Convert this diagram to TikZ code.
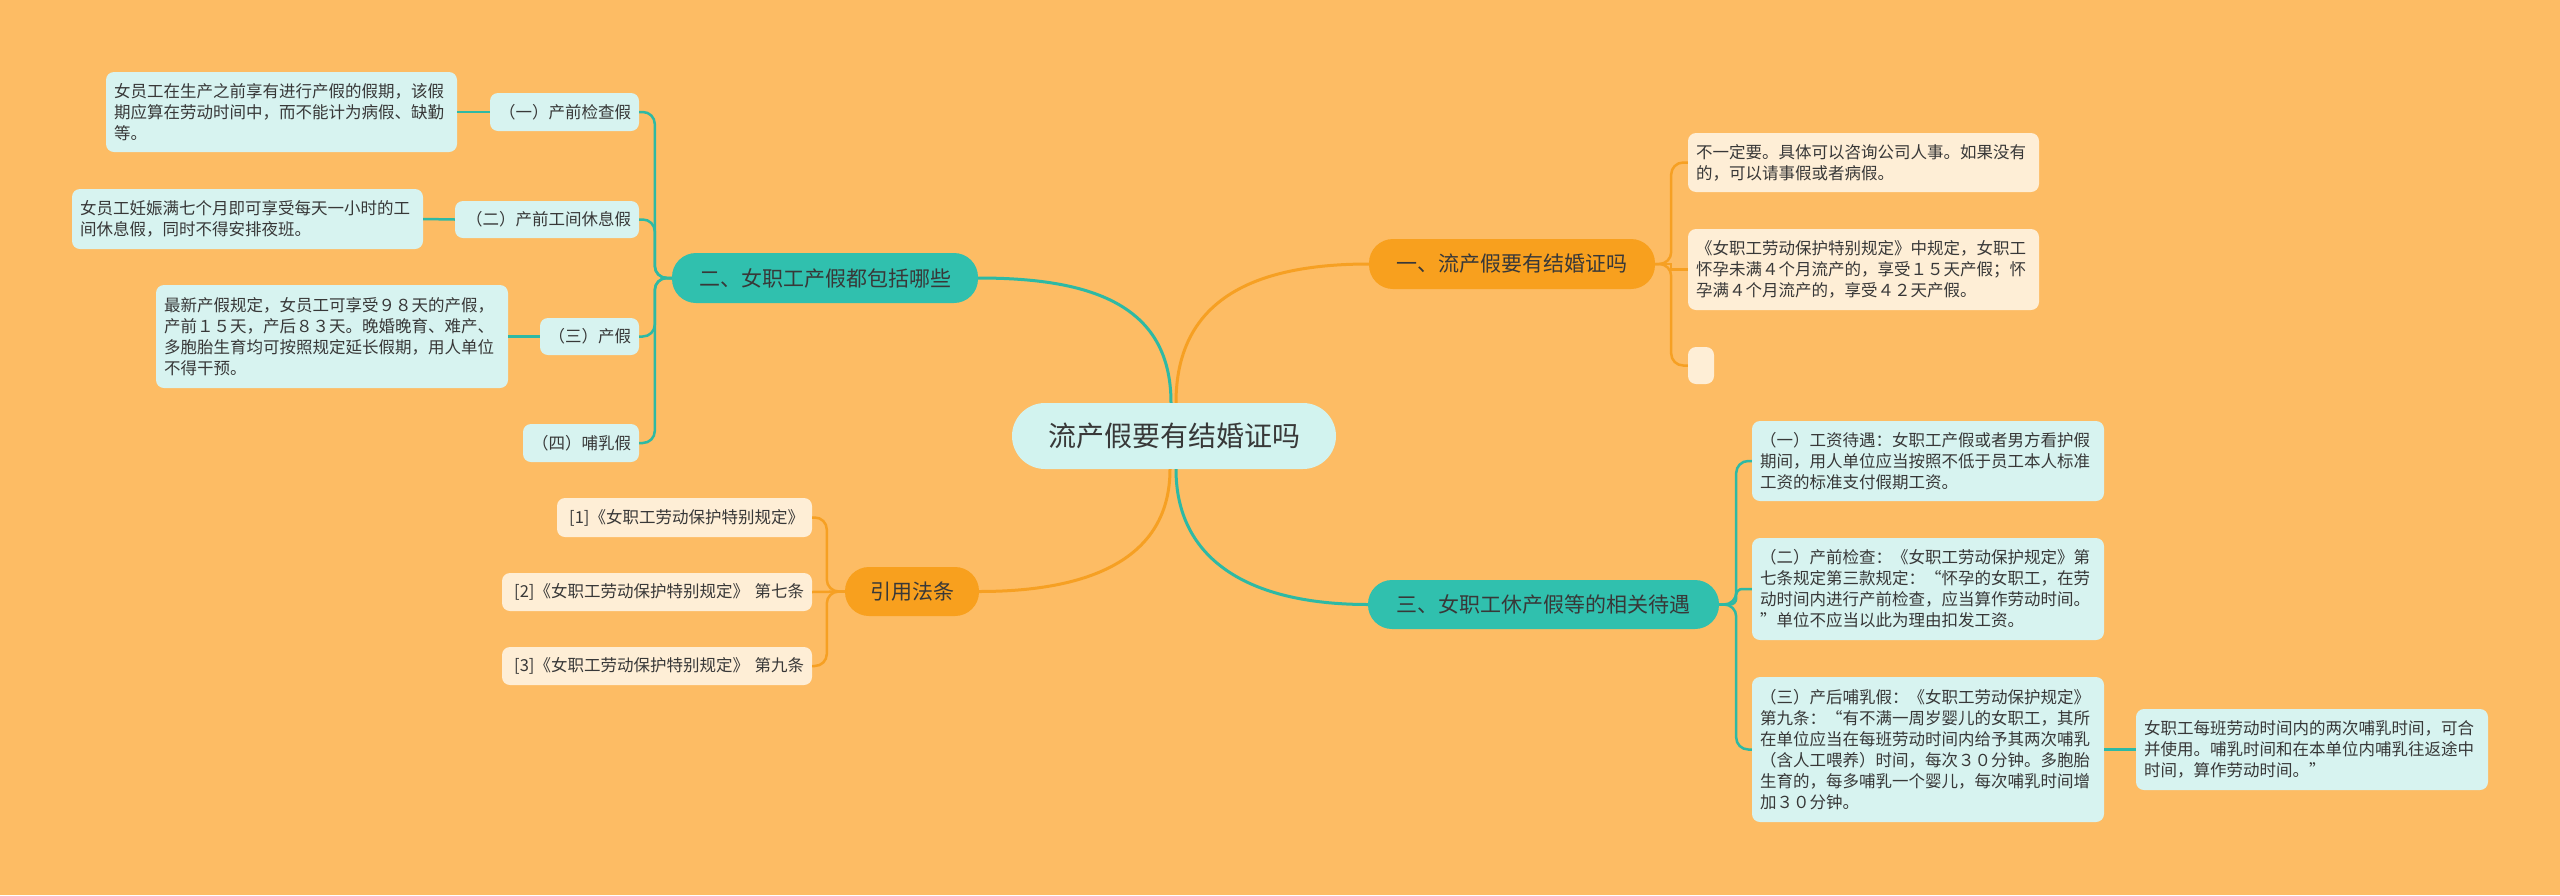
\documentclass[tikz,border=0pt]{standalone}
\usepackage{fontspec}
\newfontfamily\cjk{Noto Sans CJK SC}
\definecolor{bg}{HTML}{FDBC64}
\definecolor{txt}{HTML}{383838}
\definecolor{orangef}{HTML}{F8A01E}
\definecolor{tealf}{HTML}{30C0AE}
\definecolor{orangel}{HTML}{F6A023}
\definecolor{teall}{HTML}{2EB9A4}
\definecolor{cyanf}{HTML}{D7F3F0}
\definecolor{creamf}{HTML}{FEEED6}
\definecolor{centerf}{HTML}{D2F3EF}
\tikzset{
  box/.style={rounded corners=8pt, inner xsep=8pt, inner ysep=0pt,
    font=\cjk\fontsize{16.5}{21}\selectfont, text=txt, align=left},
  cyanbox/.style={box, fill=cyanf},
  creambox/.style={box, fill=creamf},
  branch/.style={rounded corners=24pt, inner xsep=0pt, inner ysep=0pt,
    font=\cjk\fontsize{21}{25}\selectfont, text=txt},
  obranch/.style={branch, fill=orangef},
  tbranch/.style={branch, fill=tealf},
  oline/.style={draw=orangel, line width=2.5pt},
  tline/.style={draw=teall, line width=2.5pt},
  omain/.style={draw=orangel, line width=3pt},
  tmain/.style={draw=teall, line width=3pt},
}
\begin{document}
\begin{tikzpicture}[x=1pt,y=-1pt]
\useasboundingbox[fill=bg] (0,0) rectangle (2560,895);

% center
\node[fill=centerf, rounded corners=33pt, minimum width=324pt, minimum height=66pt,
  inner sep=0pt, text=txt, font=\cjk\fontsize{28}{34}\selectfont] (c) at (1174,436) {流产假要有结婚证吗};

% branches
\node[obranch, minimum width=286pt, minimum height=50pt] (b1) at (1512,264) {一、流产假要有结婚证吗};
\node[tbranch, minimum width=306pt, minimum height=50pt] (b2) at (825,278) {二、女职工产假都包括哪些};
\node[obranch, minimum width=134pt, minimum height=49pt] (b3) at (912,591.5) {引用法条};
\node[tbranch, minimum width=351pt, minimum height=49pt] (b4) at (1543.5,604.5) {三、女职工休产假等的相关待遇};

% branch 1 children
\node[creambox, text width=335pt, minimum height=59pt] (a1) at (1863.5,162.5)
  {不一定要。具体可以咨询公司人事。如果没有\\的，可以请事假或者病假。};
\node[creambox, text width=335pt, minimum height=81pt] (a2) at (1863.5,269.5)
  {《女职工劳动保护特别规定》中规定，女职工\\怀孕未满４个月流产的，享受１５天产假；怀\\孕满４个月流产的，享受４２天产假。};
\node[creambox, inner xsep=0pt, minimum width=26pt, minimum height=37pt] (a3) at (1701,365.5) {};

% branch 2 children
\node[cyanbox, text width=133pt, align=right, minimum height=38pt] (l1) at (564.5,112) {（一）产前检查假};
\node[cyanbox, text width=168pt, align=right, minimum height=37pt] (l2) at (547,219.5) {（二）产前工间休息假};
\node[cyanbox, text width=83pt, align=right, minimum height=37pt] (l3) at (589.5,336.5) {（三）产假};
\node[cyanbox, text width=100pt, align=right, minimum height=38pt] (l4) at (581,443) {（四）哺乳假};
\node[cyanbox, text width=335pt, minimum height=80pt] (d1) at (281.5,112)
  {女员工在生产之前享有进行产假的假期，该假\\期应算在劳动时间中，而不能计为病假、缺勤\\等。};
\node[cyanbox, text width=335pt, minimum height=60pt] (d2) at (247.5,219)
  {女员工妊娠满七个月即可享受每天一小时的工\\间休息假，同时不得安排夜班。};
\node[cyanbox, text width=336pt, minimum height=103pt] (d3) at (332,336.5)
  {最新产假规定，女员工可享受９８天的产假，\\产前１５天，产后８３天。晚婚晚育、难产、\\多胞胎生育均可按照规定延长假期，用人单位\\不得干预。};

% branch 3 children
\node[creambox, text width=239pt, align=right, minimum height=39pt] (r1) at (684.5,517.5) {[1]《女职工劳动保护特别规定》};
\node[creambox, text width=294pt, align=right, minimum height=38pt] (r2) at (657,592) {[2]《女职工劳动保护特别规定》 第七条};
\node[creambox, text width=294pt, align=right, minimum height=38pt] (r3) at (657,666) {[3]《女职工劳动保护特别规定》 第九条};

% branch 4 children
\node[cyanbox, text width=336pt, minimum height=80pt] (t1) at (1928,461)
  {（一）工资待遇：女职工产假或者男方看护假\\期间，用人单位应当按照不低于员工本人标准\\工资的标准支付假期工资。};
\node[cyanbox, text width=336pt, minimum height=102pt] (t2) at (1928,589)
  {（二）产前检查：《女职工劳动保护规定》第\\七条规定第三款规定：“怀孕的女职工，在劳\\动时间内进行产前检查，应当算作劳动时间。\\”单位不应当以此为理由扣发工资。};
\node[cyanbox, text width=336pt, minimum height=145pt] (t3) at (1928,749.5)
  {（三）产后哺乳假：《女职工劳动保护规定》\\第九条：“有不满一周岁婴儿的女职工，其所\\在单位应当在每班劳动时间内给予其两次哺乳\\（含人工喂养）时间，每次３０分钟。多胞胎\\生育的，每多哺乳一个婴儿，每次哺乳时间增\\加３０分钟。};
\node[cyanbox, text width=336pt, minimum height=81pt] (t4) at (2312,749.5)
  {女职工每班劳动时间内的两次哺乳时间，可合\\并使用。哺乳时间和在本单位内哺乳往返途中\\时间，算作劳动时间。”};

% main connectors
\draw[omain] ([xshift=2pt]c.north) .. controls +(0,-100) and +(-120,0) .. (b1.west);
\draw[tmain] ([xshift=-3pt]c.north) .. controls +(0,-100) and +(110,0) .. (b2.east);
\draw[omain] ([xshift=-4pt]c.south) .. controls +(0,90) and +(110,0) .. (b3.east);
\draw[tmain] ([xshift=2pt]c.south) .. controls +(0,90) and +(-120,0) .. (b4.west);

% branch 1 connectors
\draw[oline, rounded corners=12pt] (b1.east) -- ++(16,0) |- (a1.west);
\draw[oline] (b1.east) -- ++(16,0) |- (a2.west);
\draw[oline, rounded corners=12pt] (b1.east) -- ++(16,0) |- (a3.west);

% branch 2 connectors
\draw[tline, rounded corners=12pt] (b2.west) -- ++(-17,0) |- (l1.east);
\draw[tline, rounded corners=12pt] (b2.west) -- ++(-17,0) |- (l2.east);
\draw[tline, rounded corners=12pt] (b2.west) -- ++(-17,0) |- (l3.east);
\draw[tline, rounded corners=12pt] (b2.west) -- ++(-17,0) |- (l4.east);
\draw[tline] (l1.west) -- (d1.east);
\draw[tline] (l2.west) -- (d2.east);
\draw[tline] (l3.west) -- (d3.east);

% branch 3 connectors
\draw[oline, rounded corners=12pt] (b3.west) -- ++(-18,0) |- (r1.east);
\draw[oline] (b3.west) -- (r2.east);
\draw[oline, rounded corners=12pt] (b3.west) -- ++(-18,0) |- (r3.east);

% branch 4 connectors
\draw[tline, rounded corners=12pt] (b4.east) -- ++(17,0) |- (t1.west);
\draw[tline, rounded corners=6pt] (b4.east) -- ++(17,0) |- (t2.west);
\draw[tline, rounded corners=12pt] (b4.east) -- ++(17,0) |- (t3.west);
\draw[tline] (t3.east) -- (t4.west);
\end{tikzpicture}
\end{document}
